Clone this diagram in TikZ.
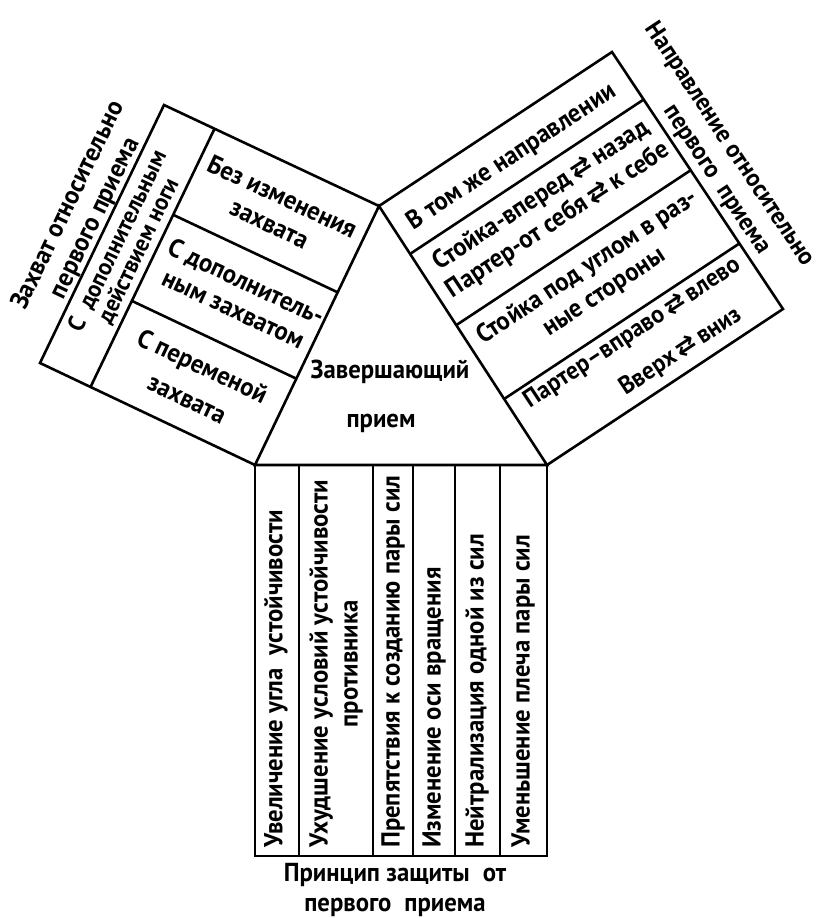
\documentclass[tikz,border=0pt]{standalone}
\usepackage{fontspec}
\setmainfont{PT Sans}[FakeStretch=0.95]
\newfontfamily\arrfont{DejaVu Sans}
\newcommand{\arr}{\,{\arrfont ⇄}\,}
\usetikzlibrary{calc}

\begin{document}
\begin{tikzpicture}[x=1pt,y=-1pt,line width=2.6pt,
  every node/.style={align=center,inner sep=0pt,font=\bfseries\fontsize{26}{30}\selectfont},
  tight/.style={font=\bfseries\fontsize{24}{23}\selectfont}]
\useasboundingbox (0,0) rectangle (818,918);
% corners of the triangle and the two side boxes
\coordinate (T) at (379,206);
\coordinate (BL) at (255,465);
\coordinate (BR) at (547,465);
\coordinate (LT) at (164,105);
\coordinate (LB) at (40,363);
\coordinate (RT) at (612,52);
\coordinate (RB) at (783,309);
\draw (T) -- (BL) -- (BR) -- cycle;
\draw (T) -- (LT) -- (LB) -- (BL);
\draw (T) -- (RT) -- (RB) -- (BR);
% left box
\coordinate (L1) at ($(LT)!0.235!(T)$);
\coordinate (L2) at ($(LB)!0.235!(BL)$);
\draw (L1) -- (L2);
\draw ($(L1)!1/3!(L2)$) -- ($(T)!1/3!(BL)$);
\draw ($(L1)!2/3!(L2)$) -- ($(T)!2/3!(BL)$);
% right box
\draw ($(T)!0.185!(BR)$) -- ($(RT)!0.185!(RB)$);
\draw ($(T)!0.46!(BR)$) -- ($(RT)!0.46!(RB)$);
\draw ($(T)!0.745!(BR)$) -- ($(RT)!0.745!(RB)$);
% bottom box
\draw (BL) rectangle (547,856);
\draw (299,465) -- (299,856);
\draw (373,465) -- (373,856);
\draw (413,465) -- (413,856);
\draw (455,465) -- (455,856);
\draw (500,465) -- (500,856);

\node[rotate=64.3] (zahvat) at (82,212) {Захват относительно\\первого приема};
\node[rotate=64.3,tight] (noga) at (128,246) {С\enspace дополнительным\\действием ноги};
\node[rotate=-25.2] (bez) at (276,210) {Без изменения\\захвата};
\node[rotate=-25.2] (dop) at (240,295) {С дополнитель-\\ным захватом};
\node[rotate=-25.2] (smena) at (195,382) {С переменой\\[6pt]захвата};

\node (zav) at (390,372) {Завершающий};
\node (priem) at (381,423) {прием};

\node[rotate=33.5] (vtom) at (512,157) {В том же направлении};
\node[rotate=33.5] (vpered) at (550,208) {Стойка-вперед\arr назад\\Партер-от себя\arr к себе};
\node[rotate=33.5] (ugol) at (596,280) {Стойка под углом в раз-\\ные стороны};
\node[rotate=33.5,font=\bfseries\fontsize{25}{30}\selectfont] (vpravo) at (644,351) {Партер–вправо\arr влево\\[12pt]\hspace*{60pt}Вверх\arr вниз};
\node[rotate=-56.4,font=\bfseries\fontsize{25}{30}\selectfont] (naprav) at (717,153) {Направление относительно\\\hspace*{44pt}первого\enspace приема};

\node[rotate=90,anchor=west] (ugla) at (276,849) {Увеличение угла\enspace устойчивости};
\node[rotate=90,anchor=west] (uhud) at (336,849) {Ухудшение условий устойчивости\\противника};
\node[rotate=90,anchor=west] (para) at (393,849) {Препятствия к созданию пары сил};
\node[rotate=90,anchor=west] (os) at (434,849) {Изменение оси вращения};
\node[rotate=90,anchor=west] (neitr) at (477,849) {Нейтрализация одной из сил};
\node[rotate=90,anchor=west] (pleco) at (523,849) {Уменьшение плеча пары сил};

\node (princip) at (395,890) {Принцип защиты\enspace от\\первого\enspace приема};
\end{tikzpicture}
\end{document}
